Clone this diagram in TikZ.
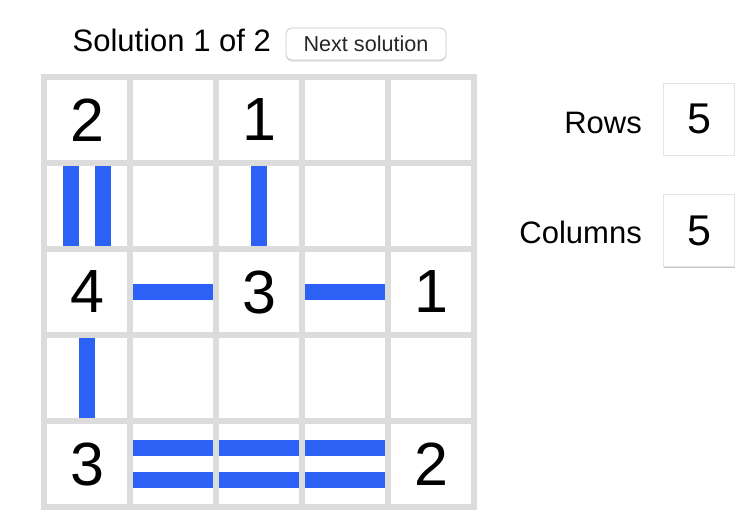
\documentclass[tikz,border=0pt]{standalone}
\usepackage{fontspec}
\setmainfont{Liberation Sans}
\definecolor{bridgeblue}{RGB}{43,98,245}
\definecolor{gridgray}{RGB}{220,220,220}
\definecolor{boxgray}{RGB}{228,228,228}
\definecolor{shadowgray}{RGB}{200,200,200}
\tikzset{
  island/.style={rectangle,minimum size=86pt,inner sep=0pt,font=\fontsize{61}{61}\selectfont},
  bridge/.style={draw=bridgeblue,line width=16pt},
  gridline/.style={draw=gridgray,line width=6pt},
  label/.style={inner sep=0pt,font=\fontsize{31}{31}\selectfont},
  valbox/.style={rectangle,draw=boxgray,line width=1pt,fill=white,minimum width=71pt,minimum height=72pt,inner sep=0pt,font=\fontsize{43}{43}\selectfont},
  button/.style={rectangle,rounded corners=6pt,draw=shadowgray,line width=0.8pt,fill=white,minimum width=160pt,minimum height=32pt,inner sep=0pt,font=\fontsize{21.6}{21.6}\selectfont,text=black!85}
}
\begin{document}
\begin{tikzpicture}[x=1pt,y=-1pt]
\useasboundingbox[fill=white] (0,0) rectangle (754,528);
% title and button
\node[label,anchor=base west] (title) at (72.5,51) {Solution 1 of 2};
\fill[black!12,rounded corners=6pt] (286,29.5) rectangle (446,61.5);
\node[button] (next) at (366,44) {Next solution};
% islands
\node[island] (a) at (87,120) {2};
\node[island] (b) at (259,120) {1};
\node[island] (c) at (87,292) {4};
\node[island] (d) at (259,292) {3};
\node[island] (e) at (431,292) {1};
\node[island] (f) at (87,464) {3};
\node[island] (g) at (431,464) {2};
% bridges
\draw[bridge] ([xshift=-16pt]a.south) -- ([xshift=-16pt]c.north);
\draw[bridge] ([xshift=16pt]a.south) -- ([xshift=16pt]c.north);
\draw[bridge] (b.south) -- (d.north);
\draw[bridge] (c.east) -- (d.west);
\draw[bridge] (d.east) -- (e.west);
\draw[bridge] (c.south) -- (f.north);
\draw[bridge] ([yshift=16pt]f.east) -- ([yshift=16pt]g.west);
\draw[bridge] ([yshift=-16pt]f.east) -- ([yshift=-16pt]g.west);
% grid
\foreach \i in {0,...,5} {
  \draw[gridline] (44+86*\i,74) -- (44+86*\i,510);
  \draw[gridline] (41,77+86*\i) -- (477,77+86*\i);
}
% right panel
\node[label,anchor=base east] (rows) at (642,133) {Rows};
\node[label,anchor=base east] (cols) at (642,243.5) {Columns};
\draw[shadowgray,line width=1.5pt] (663.5,155.5) -- (734.5,155.5);
\node[valbox] (rowval) at (699,119) {5};
\draw[shadowgray,line width=1.5pt] (663.5,267) -- (734.5,267);
\node[valbox] (colval) at (699,230.5) {5};
\end{tikzpicture}
\end{document}
